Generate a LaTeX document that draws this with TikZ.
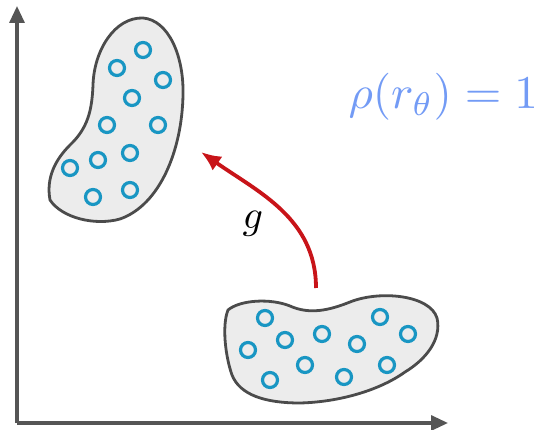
\documentclass[tikz,border=0pt]{standalone}
\usepackage{amssymb}
\usepackage{mathtools}
\usetikzlibrary{arrows.meta}
\definecolor{axisgray}{RGB}{85,85,85}
\definecolor{blobgray}{RGB}{236,236,236}
\definecolor{blobline}{RGB}{75,75,75}
\definecolor{dotblue}{RGB}{25,150,195}
\definecolor{mapred}{RGB}{200,20,25}
\definecolor{textblue}{RGB}{115,155,245}

\begin{document}
\begin{tikzpicture}[x=1pt,y=-1pt,
	axis/.style={draw=axisgray, line width=3.2pt, -{Triangle[length=17pt,width=15pt]}},
	blob/.style={draw=blobline, fill=blobgray, line width=2.8pt},
	dot/.style={draw=dotblue, line width=3.2pt},
	maparrow/.style={draw=mapred, line width=3.8pt, -{Latex[length=20pt,width=17pt]}}]
			\useasboundingbox (0,0) rectangle (541,430);
			\coordinate (o) at (17,423);
			\coordinate (ytip) at (17,6);
			\coordinate (xtip) at (448,423);
			\draw[axis] (o) -- (ytip);
			\draw[axis] (o) -- (xtip);
			% upper cluster
			\draw[blob] (143,18) .. controls (168,20) and (184,55) .. (183,95)
				.. controls (182,150) and (160,205) .. (120,219)
				.. controls (95,226) and (62,218) .. (50,200)
				.. controls (46,178) and (55,160) .. (70,145)
				.. controls (88,128) and (92,110) .. (93,85)
				.. controls (94,50) and (115,17) .. cycle;
			\draw[dot](143,50) circle(7.5);
			\draw[dot](117,68) circle(7.5);
			\draw[dot](163,80) circle(7.5);
			\draw[dot](132,98) circle(7.5);
			\draw[dot](107,125) circle(7.5);
			\draw[dot](158,125) circle(7.5);
			\draw[dot](130,153) circle(7.5);
			\draw[dot](98,160) circle(7.5);
			\draw[dot](70,168) circle(7.5);
			\draw[dot](93,197) circle(7.5);
			\draw[dot](130,190) circle(7.5);
			% lower cluster
			\draw[blob] (228,310) .. controls (240,300) and (270,298) .. (290,306)
				.. controls (310,315) and (330,310) .. (350,302)
				.. controls (380,290) and (430,295) .. (437,318)
				.. controls (442,340) and (425,360) .. (405,372)
				.. controls (380,390) and (340,402) .. (300,403)
				.. controls (265,403) and (240,395) .. (232,375)
				.. controls (225,355) and (222,325) .. cycle;
			\draw[dot](265,318) circle(7.5);
			\draw[dot](285,340) circle(7.5);
			\draw[dot](248,350) circle(7.5);
			\draw[dot](322,334) circle(7.5);
			\draw[dot](357,344) circle(7.5);
			\draw[dot](380,317) circle(7.5);
			\draw[dot](408,334) circle(7.5);
			\draw[dot](305,365) circle(7.5);
			\draw[dot](387,365) circle(7.5);
			\draw[dot](270,380) circle(7.5);
			\draw[dot](344,377) circle(7.5);
			% the map g
			\coordinate (gfrom) at (316,288);
			\coordinate (gto) at (201,152);
			\draw[maparrow] (gfrom) to[out=90,in=-35] (gto);
			\node[scale=4] (glabel) at (253,224) {$g$};
			\node[anchor=west, text=textblue, scale=4.7] (rho) at (332,97) {$\rho(r_\theta) = 1$};
		\end{tikzpicture}
\end{document}
